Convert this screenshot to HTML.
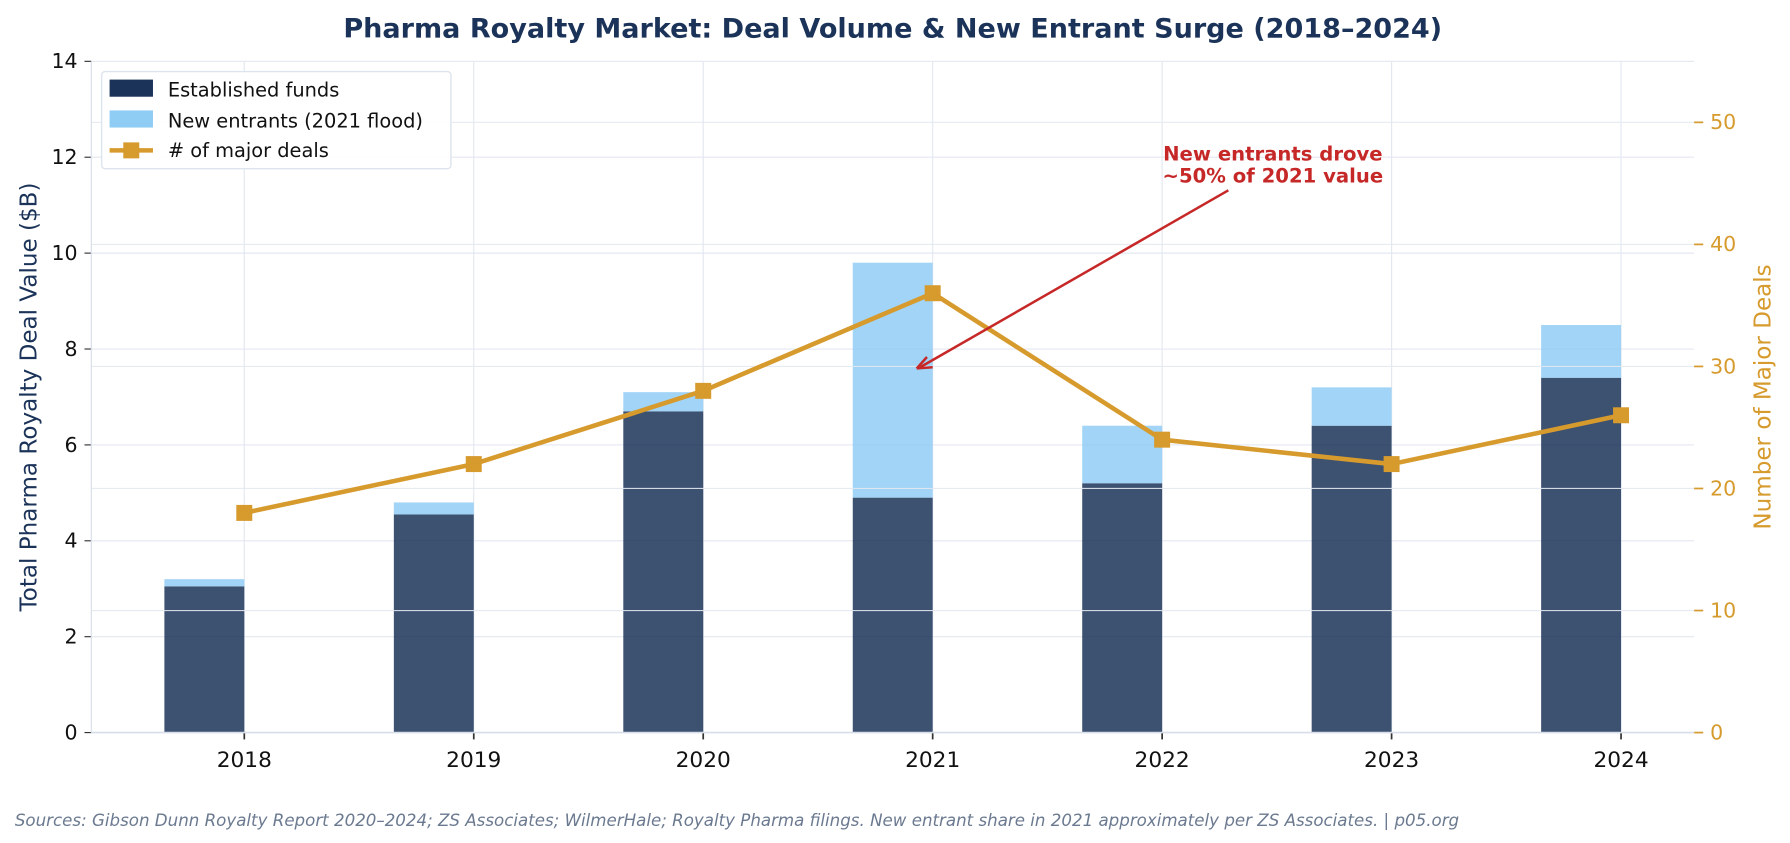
<!DOCTYPE html>
<html><head><meta charset="utf-8"><style>
html,body{margin:0;padding:0;background:#fff;}
svg{display:block;font-family:"DejaVu Sans","Liberation Sans",sans-serif;}
</style></head><body>
<svg id="chart" width="1790" height="843" viewBox="0 0 1568 735" xmlns="http://www.w3.org/2000/svg">
<text x="782" y="31" text-anchor="middle" font-size="23.7" font-weight="bold" fill="#1b3358">Pharma Royalty Market: Deal Volume &amp; New Entrant Surge (2018–2024)</text>
<g id="grid"></g>
<g id="bars"></g>
<g id="grid2"></g>
<g id="line"></g>
<g id="axes"></g>
<g>
<text x="1115" y="139" text-anchor="middle" font-size="17.2" font-weight="bold" fill="#c62828">New entrants drove</text>
<text x="1115" y="158" text-anchor="middle" font-size="17.2" font-weight="bold" fill="#c62828">~50% of 2021 value</text>
<line x1="1076" y1="165" x2="806" y2="320" stroke="#c62828" stroke-width="2.2"/>
<path d="M803 321 L812 311 M803 321 L817 320" stroke="#c62828" stroke-width="2.2" fill="none"/>
</g>
<g>
<rect x="89" y="61" width="306" height="85" rx="3" fill="#fff" fill-opacity="0.9" stroke="#dde4ee" stroke-width="1.2"/>
<rect x="96" y="68" width="38" height="15" fill="#1b3358"/>
<text x="147" y="83" font-size="17" fill="#111">Established funds</text>
<rect x="96" y="95" width="38" height="15" fill="#90cdf4"/>
<text x="147" y="110" font-size="17" fill="#111">New entrants (2021 flood)</text>
<line x1="96" y1="130" x2="134" y2="130" stroke="#d69a2d" stroke-width="4"/>
<rect x="108" y="123" width="14" height="14" fill="#d69a2d"/>
<text x="147" y="136" font-size="17" fill="#111"># of major deals</text>
</g>
<text transform="translate(32,346) rotate(-90)" text-anchor="middle" font-size="20.2" fill="#1b3358">Total Pharma Royalty Deal Value ($B)</text>
<text transform="translate(1551,346) rotate(-90)" text-anchor="middle" font-size="20.2" fill="#d69a2d">Number of Major Deals</text>
<text x="13" y="722" font-size="14.6" font-style="italic" fill="#6b7a90">Sources: Gibson Dunn Royalty Report 2020–2024; ZS Associates; WilmerHale; Royalty Pharma filings. New entrant share in 2021 approximately per ZS Associates. | p05.org</text>
</svg>
<script>
const categories=["2018","2019","2020","2021","2022","2023","2024"];
const established=[3.05,4.55,6.7,4.9,5.2,6.4,7.4];
const newEntrants=[0.15,0.25,0.4,4.9,1.2,0.8,1.1];
const deals=[18,22,28,36,24,22,26];
const leftTicks=[0,2,4,6,8,10,12,14];
const rightTicks=[0,10,20,30,40,50];
const NS="http://www.w3.org/2000/svg";
const L=80,R=1484,T=52,B=640;
const xs=i=>214+i*201;
const yL=v=>B-(v/14)*(B-T);
const yR=v=>B-(v/55)*(B-T);
function mk(tag,attrs,parent,text){const e=document.createElementNS(NS,tag);for(const k in attrs)e.setAttribute(k,attrs[k]);if(text!==undefined)e.textContent=text;document.getElementById(parent).appendChild(e);return e;}
const gc="#e3e8f0";
leftTicks.forEach(t=>{const g=mk("line",{x1:L,x2:R,y1:yL(t),y2:yL(t),stroke:gc,"stroke-width":1},"grid");


const tx=mk("text",{x:L-12,y:yL(t)+6,"text-anchor":"end","font-size":18,fill:"#111"},"axes",String(t));


mk("line",{x1:L-6,x2:L,y1:yL(t),y2:yL(t),stroke:"#333"},"axes");});
categories.forEach((c,i)=>{const g=mk("line",{x1:xs(i),x2:xs(i),y1:T,y2:B,stroke:gc,"stroke-width":1},"grid");


const a=mk("rect",{x:xs(i)-70,y:yL(established[i]),width:70,height:B-yL(established[i]),fill:"#1b3358","fill-opacity":0.85},"bars");


const b=mk("rect",{x:xs(i)-70,y:yL(established[i]+newEntrants[i]),width:70,height:yL(established[i])-yL(established[i]+newEntrants[i]),fill:"#90cdf4","fill-opacity":0.85},"bars");


mk("line",{x1:xs(i),x2:xs(i),y1:B,y2:B+6,stroke:"#333","stroke-width":1.5},"axes");
const tx=mk("text",{x:xs(i),y:B+30,"text-anchor":"middle","font-size":19,fill:"#111"},"axes",c);

});
rightTicks.forEach(t=>{const g=mk("line",{x1:L,x2:R,y1:yR(t),y2:yR(t),stroke:gc,"stroke-width":1,"stroke-opacity":0.9},"grid2");


mk("line",{x1:R,x2:R+8,y1:yR(t),y2:yR(t),stroke:"#d69a2d","stroke-width":1.5},"axes");
const tx=mk("text",{x:R+14,y:yR(t)+6,"font-size":18,fill:"#d69a2d"},"axes",String(t));

});
mk("line",{x1:L,x2:R,y1:B,y2:B,stroke:"#d8dee8","stroke-width":1.5},"axes");
mk("line",{x1:L,x2:L,y1:T,y2:B,stroke:"#d8dee8","stroke-width":1},"axes");
const pts=deals.map((d,i)=>xs(i)+","+yR(d)).join(" ");
const pl=mk("polyline",{points:pts,fill:"none",stroke:"#d69a2d","stroke-width":4,"stroke-linejoin":"round"},"line");


deals.forEach((d,i)=>{const m=mk("rect",{x:xs(i)-7,y:yR(d)-7,width:14,height:14,fill:"#d69a2d"},"line");

});
</script>
</body></html>
